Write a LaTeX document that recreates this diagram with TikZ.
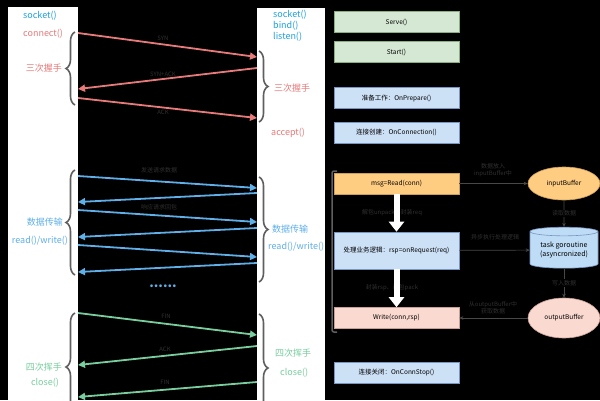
\documentclass[tikz,border=0pt]{standalone}
\usepackage{fontspec}
\setmainfont{Noto Sans CJK SC}
\usepackage{tikz}
\usetikzlibrary{arrows.meta,shapes.geometric}
\usetikzlibrary{decorations.pathreplacing}
\definecolor{sock_blue}{RGB}{30,160,222}
\definecolor{hs_red}{RGB}{232,122,122}
\definecolor{data_blue}{RGB}{95,175,232}
\definecolor{wave_green}{RGB}{120,206,158}
\definecolor{brace_gray}{RGB}{95,95,95}
\definecolor{label_gray}{RGB}{48,48,48}
\definecolor{line_gray}{RGB}{72,72,72}
\definecolor{box_green}{RGB}{213,232,212}
\definecolor{edge_green}{RGB}{140,175,130}
\definecolor{box_blue}{RGB}{204,224,246}
\definecolor{edge_blue}{RGB}{120,150,195}
\definecolor{box_orange}{RGB}{255,205,130}
\definecolor{edge_orange}{RGB}{205,160,90}
\definecolor{box_pink}{RGB}{250,218,208}
\definecolor{edge_pink}{RGB}{200,160,150}
\definecolor{cyl_blue}{RGB}{190,220,245}

\begin{document}
\begin{tikzpicture}[x=1pt,y=-1pt,>=Stealth]
    \tikzstyle{col}=[fill=white, inner sep=0, outer sep=0]
    \tikzstyle{fn}=[inner sep=0, font=\fontsize{9}{10}\selectfont]
    \tikzstyle{msg}=[inner sep=0, text=label_gray, font=\fontsize{6}{7}\selectfont, align=center]
    \tikzstyle{box}=[draw, line width=0.6pt, minimum width=125pt, minimum height=21pt, inner sep=1pt, font=\fontsize{6.5}{7}\selectfont]
    \tikzstyle{grn}=[style=box, fill=box_green, draw=edge_green]
    \tikzstyle{blu}=[style=box, fill=box_blue, draw=edge_blue]
    \tikzstyle{org}=[style=box, fill=box_orange, draw=edge_orange]
    \tikzstyle{pnk}=[style=box, fill=box_pink, draw=edge_pink]
    \tikzstyle{buf}=[ellipse, draw, line width=0.6pt, minimum width=72pt, inner sep=0, font=\fontsize{6.5}{7}\selectfont]
    \tikzstyle{brc}=[brace_gray, line width=1.6pt, decorate, decoration={brace, amplitude=9pt}]
    \tikzstyle{tip}=[-{Triangle[length=7pt,width=7pt]}, line width=1.8pt]
    \tikzstyle{flow}=[line_gray, line width=0.7pt, -{Stealth[length=4pt,width=3.5pt]}]
    \tikzstyle{big}=[white, line width=6pt, -{Triangle[length=10pt,width=15pt]}]

    \fill[black] (0,0) rectangle (600,400);
    \useasboundingbox (0,0) rectangle (600,400);
    \clip (0,0) rectangle (600,400);

    % client and server columns
    \node[col, minimum width=70pt, minimum height=394pt] (cli) at (43,204) {};
    \node[col, minimum width=68pt, minimum height=394pt] (srv) at (291,205) {};

    % client side
    \node[fn, text=sock_blue, anchor=west] (csock) at (23,16) {socket()};
    \node[fn, text=hs_red, anchor=west]    (conn)  at (23,34) {connect()};
    \node[fn, text=hs_red, anchor=east]    (chs)   at (62,68) {三次握手};
    \node[fn, text=data_blue, anchor=east] (cdat)  at (63,222) {数据传输};
    \node[fn, text=data_blue]              (crw)   at (40,241) {read()/write()};
    \node[fn, text=wave_green, anchor=east] (cwav) at (62,367) {四次挥手};
    \node[fn, text=wave_green]             (ccls)  at (45,383) {close()};

    % server side
    \node[fn, text=sock_blue, anchor=west] (ssock) at (273,15) {socket()};
    \node[fn, text=sock_blue, anchor=west] (bind)  at (273,26) {bind()};
    \node[fn, text=sock_blue, anchor=west] (lstn)  at (273,37) {listen()};
    \node[fn, text=hs_red, anchor=west]    (shs)   at (274,88) {三次握手};
    \node[fn, text=hs_red, anchor=west]    (acpt)  at (271,133) {accept()};
    \node[fn, text=data_blue, anchor=west] (sdat)  at (272,229) {数据传输};
    \node[fn, text=data_blue, anchor=west] (srw)   at (268,247) {read()/write()};
    \node[fn, text=wave_green, anchor=west] (swav) at (275,353) {四次挥手};
    \node[fn, text=wave_green, anchor=west] (scls) at (280,373) {close()};

    % braces
    \draw[brc] (75,105) -- (75,32);
    \draw[brc] (259,51) -- (259,122);
    \draw[brc] (75,275) -- (75,170);
    \draw[brc] (259,177) -- (259,282);
    \draw[brc] (75,421) -- (75,313);
    \draw[brc] (259,314) -- (259,422);

    % packet labels
    \node[msg] (syn)  at (163,38)  {SYN};
    \node[msg] (sack) at (163,74)  {SYN+ACK};
    \node[msg] (ack)  at (163,112) {ACK};
    \node[msg] (req)  at (159,170) {发送请求数据};
    \node[msg] (rsp)  at (159,207) {响应请求回包};
    \node[msg] (fin1) at (166,316) {FIN};
    \node[msg] (ack2) at (165,349) {ACK};
    \node[msg] (fin2) at (165,382) {FIN};
    \node[inner sep=0, text=data_blue, font=\fontsize{13}{13}\selectfont\bfseries] (dots) at (163,286) {......};

    \path
     (cli.east |- 0,33)  edge[tip, hs_red] (srv.west |- 0,57)
     (srv.west |- 0,68)  edge[tip, hs_red] (cli.east |- 0,89)
     (cli.east |- 0,98)  edge[tip, hs_red] (srv.west |- 0,118)
     (cli.east |- 0,176) edge[tip, data_blue] (srv.west |- 0,188)
     (srv.west |- 0,193) edge[tip, data_blue] (cli.east |- 0,202)
     (cli.east |- 0,210) edge[tip, data_blue] (srv.west |- 0,222)
     (srv.west |- 0,228) edge[tip, data_blue] (cli.east |- 0,237)
     (cli.east |- 0,245) edge[tip, data_blue] (srv.west |- 0,257)
     (srv.west |- 0,263) edge[tip, data_blue] (cli.east |- 0,272)
     (cli.east |- 0,313) edge[tip, wave_green] (srv.west |- 0,335)
     (srv.west |- 0,346) edge[tip, wave_green] (cli.east |- 0,365)
     (srv.west |- 0,382) edge[tip, wave_green] (cli.east |- 0,397)
     ;

    % server hooks
    \node[grn] (serve) at (396.5,22)  {Serve()};
    \node[grn] (start) at (396.5,52)  {Start()};
    \node[blu] (prep)  at (396.5,98)  {准备工作：OnPrepare()};
    \node[blu] (onconn) at (396.5,132.5) {连接创建：OnConnection()};
    \node[org] (read)  at (396.5,183.5) {msg=Read(conn)};
    \node[blu, minimum height=37pt] (proc) at (396.5,250.5) {处理业务逻辑：rsp=onRequest(req)};
    \node[pnk] (write) at (396.5,318)  {Write(conn,rsp)};
    \node[blu] (stop)  at (396.5,372.5) {连接关闭：OnConnStop()};
    \draw[brace_gray, line width=1.5pt, rounded corners=2pt] (337,171) -- (332,171) -- (332,332) -- (337,332);

    \node[msg] (unpk) at (392,213) {解包unpack、封装req};
    \node[msg] (pack) at (392,288) {封装rsp、封包pack};
    \draw[big] (read.south) -- (proc.north);
    \draw[big] (proc.south) -- (write.north);

    % buffers
    \node[buf, fill=box_orange, draw=edge_orange, minimum height=33pt] (inbuf) at (564,183.5) {inputBuffer};
    \node[cylinder, shape border rotate=90, aspect=0.18, draw=edge_blue, fill=cyl_blue, line width=0.6pt,
          minimum width=68pt, minimum height=41pt, inner sep=0, align=center,
          font=\fontsize{7}{8.5}\selectfont] (task) at (564,250) {task goroutine\\(asyncronized)};
    \node[buf, fill=box_pink, draw=edge_pink, minimum height=40pt] (outbuf) at (564,318) {outputBuffer};

    \node[msg] (put)  at (493,170) {数据放入\\inputBuffer中};
    \node[msg] (async) at (495,237) {异步执行处理逻辑};
    \node[msg] (get)  at (493,308) {从outputBuffer中\\获取数据};
    \path
     (read) edge[flow] (inbuf)
     (proc) edge[flow] (task)
     (outbuf) edge[flow] (write)
     (inbuf) edge[flow] node[msg, fill=black, inner sep=1pt] {读取数据} (task)
     (task) edge[flow] node[msg, fill=black, inner sep=1pt] {写入数据} (outbuf)
     ;
\end{tikzpicture}
\end{document}
